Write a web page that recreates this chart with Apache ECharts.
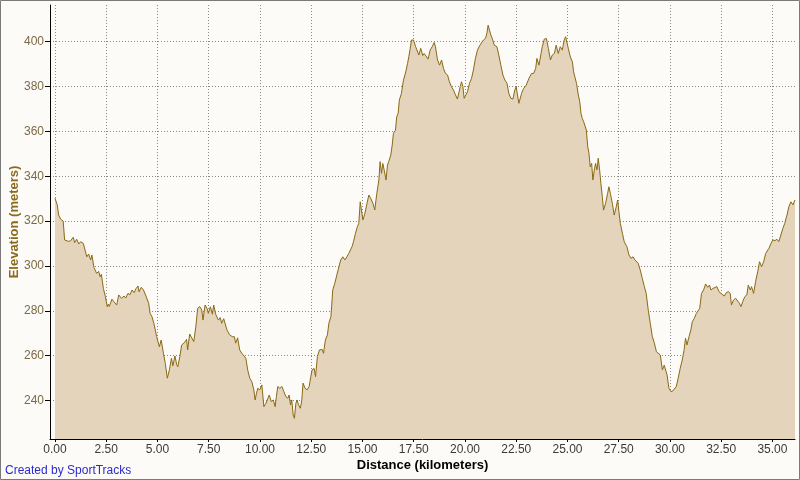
<!DOCTYPE html>
<html>
<head>
<meta charset="utf-8">
<script src="https://cdn.jsdelivr.net/npm/echarts@6/dist/echarts.min.js"></script>
<style>
html,body{margin:0;padding:0;background:#fcfbf8;}
#chart{width:800px;height:480px;}
</style>
</head>
<body>
<div id="chart"></div>
<script>
// Distance along the route (km) and elevation (m)
const distanceKm = [
0,0.11,0.18,0.28,0.4,0.47,0.65,0.76,0.89,0.96,1.06,1.16,1.25,1.38,1.55,1.64,1.74,1.8,1.9,2.03,
2.13,2.2,2.26,2.36,2.46,2.55,2.6,2.65,2.78,2.88,3.01,3.11,3.24,3.37,3.45,3.56,3.66,3.76,3.86,3.95,
4.05,4.1,4.21,4.31,4.44,4.57,4.64,4.73,4.83,4.96,5.09,5.18,5.29,5.38,5.48,5.58,5.68,5.75,5.85,5.94,
5.99,6.09,6.18,6.31,6.42,6.47,6.57,6.67,6.77,6.87,6.96,7.06,7.16,7.22,7.32,7.42,7.48,7.58,7.68,7.74,
7.84,7.97,8.06,8.13,8.23,8.29,8.39,8.52,8.65,8.75,8.81,8.91,9.01,9.11,9.2,9.31,9.4,9.5,9.6,9.7,
9.76,9.83,9.89,9.99,10.09,10.19,10.29,10.39,10.45,10.55,10.65,10.74,10.8,10.87,10.97,11.07,11.16,11.26,11.36,11.42,
11.49,11.55,11.62,11.68,11.75,11.81,11.88,11.97,12.04,12.1,12.2,12.3,12.4,12.48,12.54,12.64,12.71,12.8,12.9,13.03,
13.1,13.19,13.29,13.36,13.46,13.55,13.65,13.75,13.85,13.94,14.04,14.14,14.24,14.33,14.4,14.49,14.56,14.66,14.75,14.82,
14.89,14.95,15.02,15.12,15.22,15.31,15.41,15.51,15.6,15.7,15.8,15.86,15.93,15.99,16.06,16.15,16.22,16.28,16.38,16.45,
16.51,16.61,16.67,16.74,16.8,16.9,17.0,17.07,17.13,17.2,17.26,17.33,17.39,17.49,17.59,17.65,17.75,17.84,17.94,18.01,
18.1,18.2,18.3,18.4,18.5,18.56,18.66,18.76,18.86,18.95,19.05,19.15,19.24,19.34,19.44,19.54,19.63,19.7,19.77,19.83,
19.9,19.96,20.03,20.12,20.22,20.32,20.41,20.51,20.61,20.71,20.8,20.9,21.0,21.07,21.13,21.2,21.26,21.33,21.43,21.56,
21.65,21.75,21.85,21.95,22.05,22.14,22.24,22.34,22.43,22.5,22.56,22.63,22.69,22.76,22.86,22.99,23.12,23.25,23.35,23.45,
23.51,23.61,23.71,23.77,23.87,23.97,24.07,24.17,24.26,24.36,24.45,24.55,24.65,24.75,24.84,24.91,24.97,25.04,25.14,25.24,
25.3,25.37,25.44,25.53,25.6,25.66,25.72,25.79,25.86,25.92,25.99,26.05,26.11,26.18,26.24,26.31,26.37,26.44,26.5,26.57,
26.63,26.7,26.76,26.86,26.96,27.02,27.09,27.19,27.28,27.38,27.45,27.51,27.58,27.68,27.77,27.9,28.0,28.1,28.2,28.29,
28.36,28.45,28.55,28.65,28.75,28.84,28.94,29.04,29.14,29.24,29.34,29.43,29.53,29.63,29.72,29.79,29.86,29.95,30.05,30.15,
30.24,30.31,30.4,30.5,30.6,30.69,30.76,30.83,30.93,31.02,31.09,31.19,31.29,31.38,31.45,31.54,31.64,31.74,31.84,31.93,
32.0,32.1,32.19,32.29,32.39,32.49,32.55,32.65,32.74,32.84,32.94,33.0,33.1,33.2,33.29,33.39,33.46,33.55,33.65,33.75,
33.82,33.92,33.98,34.08,34.18,34.28,34.37,34.47,34.57,34.67,34.76,34.83,34.93,35.02,35.12,35.22,35.31,35.41,35.51,35.6,
35.71,35.8,35.9,36.0,36.1
];
const elevationM = [
330.2,327.2,322.7,320.8,320,311.6,311,311.2,312.8,310.4,311.9,309.8,310.8,310.1,304.1,305.3,302.7,304.9,299.4,296.7,
297.6,295.2,296.3,290.0,286.3,281.8,283.0,282,285.2,284,282.6,287.1,285.6,286.6,285.7,287.8,287.2,289.3,288.1,289.9,
291.1,288.5,290.5,289.4,286.6,283.4,278.9,277.4,274.2,268.5,264.0,267,261.1,256.6,250.0,253.7,258.9,255.5,259.9,256,
255.1,259.6,264.8,265.8,267.3,262.6,269.7,268,266.3,273.0,281.1,281.9,280.4,275.9,282.6,281,278.9,281.8,278.5,282.6,
278.5,275.9,277,274.5,276.5,276,271.5,269.3,268.5,268.5,265.6,268,262.6,261.1,261.8,258.9,253.7,250.0,248.5,244.8,
240.3,243.3,245.5,244.8,247,237.3,238.8,241.1,242.5,239.6,240.3,237.3,241.8,246.3,245.5,246.3,244.1,241.8,241.1,242.5,
238.1,240.3,233.6,232.1,238.8,240.3,238.1,236.6,240.3,247.8,245.5,244.8,246.3,250.7,253.7,254.4,250.7,259.6,262.6,262.8,
261.1,267,269.3,274.5,277.4,289.3,292.3,296,299.7,302.7,304.1,302.7,304.1,305.6,305,308.6,310.8,314.6,317.5,319,
328.6,329.3,320.5,323.5,327.9,331.6,330,327.9,325,332.4,338.3,346.5,341.3,345.7,342.7,338.3,345,346.5,349.4,353.9,
359.1,360.5,366.5,368,374,376.9,382.9,385.1,387.3,390.3,393.2,397,400.7,400.7,397.8,398.5,394,397,393.8,394.7,
394,392.2,396.2,397.7,399.6,397.7,391.8,389.5,391.8,388.1,385.8,385.1,382.1,379.9,378.4,376.2,374.4,373.9,379.9,382.1,
379.9,374.7,373.9,377.6,381.4,383.6,387.3,392.5,396.2,398.1,398.4,400.7,401.4,403.7,407.3,407.5,402.9,401.4,398.4,397.7,
394,389.5,385.1,382.8,381.4,376.9,374.7,374.4,378.4,379.9,376.2,372.5,373.2,376.9,379.1,380.6,383.6,385.8,385.8,388.1,
392.5,389.5,394.7,397.7,401.1,401.4,396.9,391.8,394,394.7,398.4,394.7,397.7,396.2,400.7,402.2,401.4,397,393.2,391,
386.5,387.3,381.4,376.2,373.2,368,365.8,364.3,365,360.6,353.1,350.2,344.2,345.7,338.3,342.8,345.7,342.8,348,342.8,
336.8,330.9,324.9,327.9,332.4,335.3,332.4,327.9,322.7,326.4,329.4,324.2,319,314.6,310.8,308.6,304.9,303.4,304.1,302.7,
303.4,301.2,298.2,294.5,290.8,287.8,280.4,274.5,268.5,265.6,261.8,262.4,260.3,253.7,255.8,256.6,251.4,245.5,244.0,244.4,
244.8,246.3,250,254.4,258.1,262.6,267.8,264.8,268.5,271.5,275.2,276.7,278.9,278.1,281.1,287.8,289.3,292,290.5,291.5,
289.3,290,289.3,290.8,288.6,287.8,288,286.6,288,288.6,287.8,282.6,284.8,285.6,284.8,283.4,281.9,284.1,286.3,287.1,
291.5,289.3,290.8,287.8,293.2,297.5,301.9,299.7,301.9,305.6,306.3,307.9,310.1,311.6,311.3,311.9,310.8,313.8,316.8,319,
322.7,326.4,328.6,327.2,329.4
];
const xTickValues = [0,2.5,5,7.5,10,12.5,15,17.5,20,22.5,25,27.5,30,32.5,35];
const yTickValues = [240,260,280,300,320,340,360,380,400];

const points = distanceKm.map((d, i) => [d, elevationM[i]]);

const chart = echarts.init(document.getElementById('chart'), null, {renderer: 'canvas'});
const FONT = '"Liberation Sans", Arial, sans-serif';
chart.setOption({
  animation: false,
  backgroundColor: '#fcfbf8',
  grid: {left: 50, right: 5, top: 5, bottom: 41, containLabel: false, outerBoundsMode: 'none'},
  xAxis: {
    type: 'value',
    min: -0.244, max: 36.1,
    name: 'Distance (kilometers)',
    nameLocation: 'middle',
    nameGap: 20,
    nameMoveOverlap: false,
    nameTextStyle: {color: '#000', fontWeight: 'bold', fontSize: 13, fontFamily: FONT},
    axisLine: {show: true, onZero: false, lineStyle: {color: '#000', width: 1}},
    axisTick: {show: true, length: 3, customValues: xTickValues, lineStyle: {color: '#000'}},
    axisLabel: {customValues: xTickValues, color: '#3a3a3a', fontSize: 12, fontFamily: FONT, margin: 5,
      formatter: v => v.toFixed(2)},
    splitLine: {show: true, lineStyle: {color: '#8a8a8a', type: [1, 2], width: 1}}
  },
  yAxis: {
    type: 'value',
    min: 222.9, max: 416.3,
    name: 'Elevation (meters)',
    nameLocation: 'middle',
    nameGap: 29,
    nameRotate: 90,
    nameMoveOverlap: false,
    nameTextStyle: {color: '#8b6a1e', fontWeight: 'bold', fontSize: 13, fontFamily: FONT},
    axisLine: {show: true, onZero: false, lineStyle: {color: '#000', width: 1}},
    axisTick: {show: true, length: 5, customValues: yTickValues, lineStyle: {color: '#000'}},
    axisLabel: {customValues: yTickValues, color: '#7b6a45', fontSize: 12, fontFamily: FONT, margin: 6},
    splitLine: {show: true, lineStyle: {color: '#8a8a8a', type: [1, 2], width: 1}}
  },
  series: [{
    type: 'line',
    data: points,
    showSymbol: false,
    symbol: 'none',
    lineStyle: {color: '#8b6914', width: 1},
    areaStyle: {color: '#e3d4bb', opacity: 1, origin: 'start'},
    z: 1
  }],
  graphic: [
    {type: 'text', left: 5, top: 465, style: {text: 'Created by SportTracks', fill: '#2a2acc', font: '12px ' + FONT}},
    {type: 'rect', shape: {x: 0.5, y: 0.5, width: 799, height: 479}, style: {fill: 'none', stroke: '#7a7a7a', lineWidth: 1}, z: 100}
  ]
});
</script>
</body>
</html>
